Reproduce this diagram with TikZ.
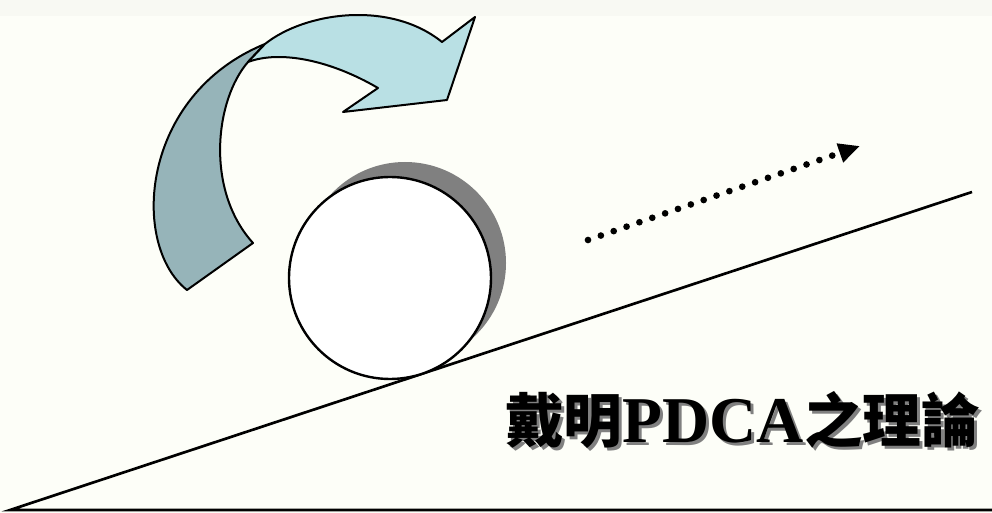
\documentclass[tikz,border=0pt]{standalone}
\usepackage{fontspec}
\setmainfont{Liberation Serif}
\newfontfamily\cjk{Noto Sans CJK TC}
\usetikzlibrary{arrows.meta}
\definecolor{paper}{RGB}{253,254,248}
\definecolor{band}{RGB}{248,249,243}
\definecolor{ribbonlight}{RGB}{185,224,228}
\definecolor{ribbondark}{RGB}{150,180,185}
\definecolor{shadowgray}{RGB}{128,128,128}
\newcommand\titletext{\bfseries{\cjk\fontsize{44}{44}\selectfont 戴明}{\fontsize{49}{49}\selectfont PDCA}{\cjk\fontsize{44}{44}\selectfont 之理論}}
\newcommand\shadowtitle{\rlap{\hspace{2.25pt}\raisebox{-2.25pt}{\color{shadowgray}\titletext}}\titletext}
\tikzset{
  ribbon/.style={draw=black, line width=1.5pt, line join=round},
  wheel/.style={circle, draw=black, fill=white, line width=1.8pt, minimum size=151.5pt, inner sep=0pt},
  wheelshadow/.style={circle, fill=shadowgray, minimum size=151.5pt, inner sep=0pt},
  dotline/.style={line width=5pt, line cap=round, dash pattern=on 0pt off 10.2pt, -{Triangle[length=16pt,width=14pt]}},
}
\begin{document}
\begin{tikzpicture}[x=0.75pt,y=-0.75pt]
 \path[use as bounding box, fill=paper] (0,0) rectangle (992,513);
\fill[band] (0,0) rectangle (992,16);

% slope and floor
\coordinate (foot) at (10,510);
\coordinate (slopetop) at (972,192);
\coordinate (floorend) at (992,510);
\draw[line width=2pt] (slopetop) -- (foot) -- (floorend);

% wheel
\node[wheelshadow] (shadow) at (405,263) {};
\node[wheel] (wheel) at (390,278) {};

% turning arrow
\filldraw[ribbon, fill=ribbondark] (187,290) .. controls (130,245) and (140,95) .. (265,44) -- (248,62) .. controls (215,100) and (205,190) .. (253,243) -- cycle;
\filldraw[ribbon, fill=ribbonlight] (265,44) .. controls (305,12) and (390,0) .. (442,42) -- (475,17) -- (447,100) -- (343,112) -- (378,88) .. controls (330,60) and (280,50) .. (248,62) -- cycle;

% rolling direction
\coordinate (dotstart) at (588,240);
\coordinate (dotend) at (860,146);
\draw[dotline] (dotstart) -- (dotend);

\node[anchor=base west, inner sep=0pt] (title) at (505,442) {\shadowtitle};

\end{tikzpicture}
\end{document}
